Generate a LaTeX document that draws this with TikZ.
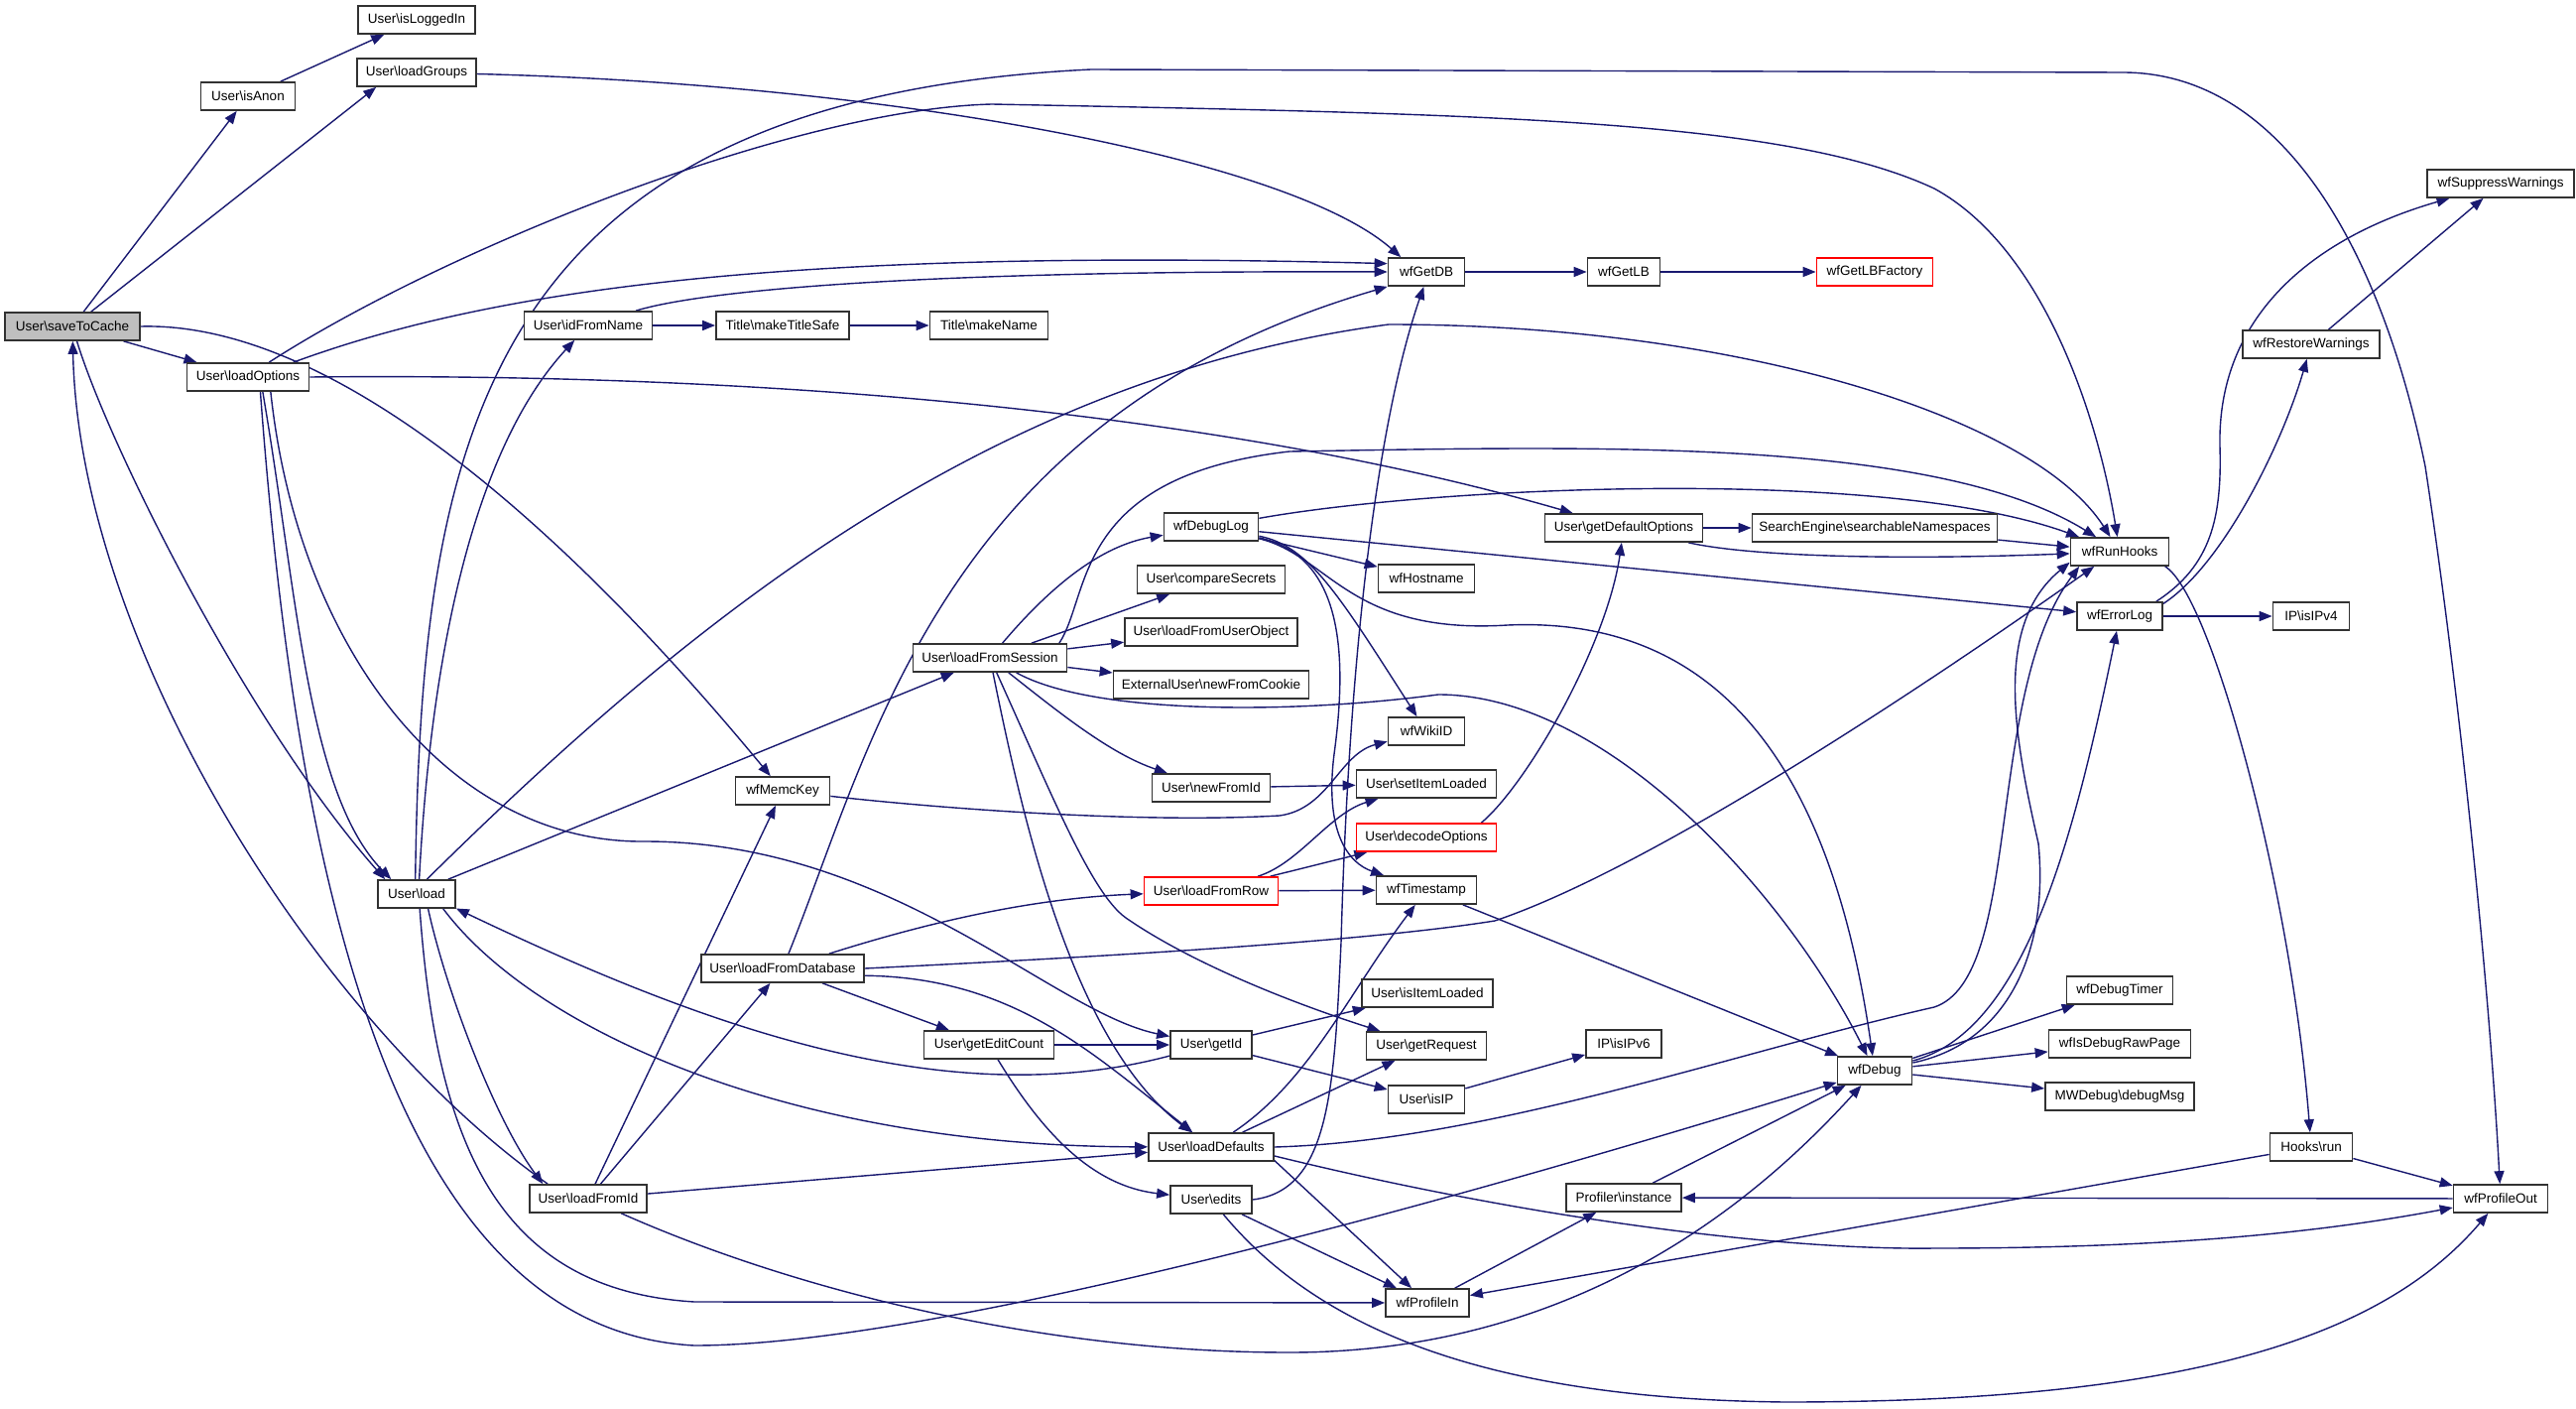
\documentclass[tikz,border=0pt]{standalone}
\usepackage{fontspec}
\setmainfont{Liberation Sans}
\usetikzlibrary{arrows.meta,backgrounds}
\definecolor{edgeblue}{RGB}{25,25,112}
\tikzset{every picture/.style={line width=1.4pt}}
\tikzset{
  fn/.style={draw={rgb,255:red,50;green,50;blue,50}, line width=1.7pt, fill=white, minimum height=28pt, inner xsep=4pt, inner ysep=0pt, font=\fontsize{13.5}{15}\selectfont},
  fnred/.style={fn, draw={rgb,255:red,255;green,0;blue,0}},
  fnroot/.style={fn, fill={rgb,255:red,191;green,191;blue,191}},
  call/.style={draw=edgeblue, line width=1.4pt, -{Triangle[length=13pt,width=10pt]}},
}

\begin{document}
\begin{tikzpicture}[x=1pt,y=1pt,yscale=-1,xscale=1]
\useasboundingbox (0,0) rectangle (2597,1420);

% Text Node
\node [fnroot, minimum width=136pt] (saveToCache) at (73,329) {User\textbackslash saveToCache};
\node [fn, minimum width=95pt] (isAnon) at (250,97) {User\textbackslash isAnon};
\node [fn, minimum width=118pt] (isLoggedIn) at (420,20) {User\textbackslash isLoggedIn};
\node [fn, minimum width=120pt] (loadGroups) at (420,73) {User\textbackslash loadGroups};
\node [fn, minimum width=123pt] (loadOptions) at (250,380) {User\textbackslash loadOptions};
\node [fn, minimum width=129pt] (idFromName) at (593,328) {User\textbackslash idFromName};
\node [fn, minimum width=134pt] (makeTitleSafe) at (789,328) {Title\textbackslash makeTitleSafe};
\node [fn, minimum width=119pt] (makeName) at (997,328) {Title\textbackslash makeName};
\node [fn, minimum width=77pt] (wfGetDB) at (1438,274) {wfGetDB};
\node [fn, minimum width=73pt] (wfGetLB) at (1637,274) {wfGetLB};
\node [fnred, minimum width=117pt] (wfGetLBFactory) at (1890,274) {wfGetLBFactory};
\node [fn, minimum width=148pt] (wfSuppressWarnings) at (2521,185) {wfSuppressWarnings};
\node [fn, minimum width=138pt] (wfRestoreWarnings) at (2330,347) {wfRestoreWarnings};
% Text Node
\node [fn, minimum width=78pt] (load) at (420,901) {User\textbackslash load};
\node [fn, minimum width=95pt] (wfDebugLog) at (1221,531) {wfDebugLog};
\node [fn, minimum width=149pt] (compareSecrets) at (1221,584) {User\textbackslash compareSecrets};
\node [fn, minimum width=174pt] (loadFromUserObject) at (1221,637) {User\textbackslash loadFromUserObject};
\node [fn, minimum width=155pt] (loadFromSession) at (998,663) {User\textbackslash loadFromSession};
\node [fn, minimum width=197pt] (newFromCookie) at (1221,690) {ExternalUser\textbackslash newFromCookie};
\node [fn, minimum width=95pt] (wfMemcKey) at (789,797) {wfMemcKey};
\node [fn, minimum width=119pt] (newFromId) at (1221,794) {User\textbackslash newFromId};
\node [fnred, minimum width=135pt] (loadFromRow) at (1221,898) {User\textbackslash loadFromRow};
\node [fn, minimum width=159pt] (getDefaultOptions) at (1637,532) {User\textbackslash getDefaultOptions};
\node [fn, minimum width=247pt] (searchableNamespaces) at (1890,532) {SearchEngine\textbackslash searchableNamespaces};
\node [fn, minimum width=97pt] (wfHostname) at (1438,583) {wfHostname};
\node [fn, minimum width=77pt] (wfWikiID) at (1438,737) {wfWikiID};
\node [fn, minimum width=141pt] (setItemLoaded) at (1438,790) {User\textbackslash setItemLoaded};
\node [fnred, minimum width=141pt] (decodeOptions) at (1438,844) {User\textbackslash decodeOptions};
\node [fn, minimum width=101pt] (wfTimestamp) at (1438,897) {wfTimestamp};
\node [fn, minimum width=99pt] (wfRunHooks) at (2137,556) {wfRunHooks};
\node [fn, minimum width=86pt] (wfErrorLog) at (2137,621) {wfErrorLog};
\node [fn, minimum width=77pt] (isIPv4) at (2330,621) {IP\textbackslash isIPv4};
% Text Node
\node [fn, minimum width=118pt] (loadFromId) at (593,1208) {User\textbackslash loadFromId};
\node [fn, minimum width=164pt] (loadFromDatabase) at (789,976) {User\textbackslash loadFromDatabase};
\node [fn, minimum width=131pt] (getEditCount) at (997,1053) {User\textbackslash getEditCount};
\node [fn, minimum width=82pt] (getId) at (1221,1053) {User\textbackslash getId};
\node [fn, minimum width=126pt] (loadDefaults) at (1221,1156) {User\textbackslash loadDefaults};
\node [fn, minimum width=82pt] (edits) at (1221,1209) {User\textbackslash edits};
\node [fn, minimum width=132pt] (isItemLoaded) at (1439,1001) {User\textbackslash isItemLoaded};
\node [fn, minimum width=121pt] (getRequest) at (1438,1054) {User\textbackslash getRequest};
\node [fn, minimum width=77pt] (isIP) at (1438,1108) {User\textbackslash isIP};
\node [fn, minimum width=76pt] (isIPv6) at (1637,1052) {IP\textbackslash isIPv6};
\node [fn, minimum width=75pt] (wfDebug) at (1890,1079) {wfDebug};
\node [fn, minimum width=116pt] (profInstance) at (1637,1207) {Profiler\textbackslash instance};
\node [fn, minimum width=84pt] (wfProfileIn) at (1439,1313) {wfProfileIn};
\node [fn, minimum width=107pt] (wfDebugTimer) at (2137,998) {wfDebugTimer};
\node [fn, minimum width=143pt] (wfIsDebugRawPage) at (2137,1052) {wfIsDebugRawPage};
\node [fn, minimum width=150pt] (debugMsg) at (2137,1105) {MWDebug\textbackslash debugMsg};
\node [fn, minimum width=83pt] (hooksRun) at (2330,1156) {Hooks\textbackslash run};
\node [fn, minimum width=95pt] (wfProfileOut) at (2521,1208) {wfProfileOut};

\begin{scope}[on background layer]
\fill [white] (0,0) rectangle (2597,1420);

%Straight Lines
\draw [call] (saveToCache) -- (isAnon);
\draw [call] (saveToCache) -- (loadGroups.-160);
\draw [call] (saveToCache) -- (loadOptions);
\draw [call] (isAnon) -- (isLoggedIn);
\draw [call] (idFromName) -- (makeTitleSafe);
\draw [call] (makeTitleSafe) -- (makeName);
\draw [call] (wfGetDB) -- (wfGetLB);
\draw [call] (wfGetLB) -- (wfGetLBFactory);
\draw [call] (load.25) -- (loadFromSession);
\draw [call] (loadFromId) -- (wfMemcKey);
\draw [call] (loadFromId) -- (loadFromDatabase);
\draw [call] (loadFromId) -- (loadDefaults);
\draw [call] (loadFromDatabase) -- (getEditCount);
\draw [call] (getEditCount) -- (getId);
\draw [call] (getId) -- (isItemLoaded);
\draw [call] (getId) -- (isIP);
\draw [call] (isIP) -- (isIPv6);
\draw [call] (edits) -- (wfProfileIn);
\draw [call] (loadFromSession) -- (compareSecrets);
\draw [call] (loadFromSession) -- (loadFromUserObject);
\draw [call] (loadFromSession) -- (newFromCookie);
\draw [call] (wfDebugLog) -- (wfHostname);
\draw [call] (wfDebugLog) -- (wfErrorLog);
\draw [call] (newFromId) -- (setItemLoaded);
\draw [call] (loadFromRow) -- (decodeOptions);
\draw [call] (loadFromRow) -- (wfTimestamp);
\draw [call] (getDefaultOptions) -- (searchableNamespaces);
\draw [call] (searchableNamespaces) -- (wfRunHooks);
\draw [call] (loadDefaults) -- (getRequest);
\draw [call] (loadDefaults.-12) -- (wfProfileIn);
\draw [call] (wfTimestamp) -- (wfDebug);
\draw [call] (hooksRun) -- (wfProfileIn);
\draw [call] (hooksRun) -- (wfProfileOut);
\draw [call] (wfProfileIn) -- (profInstance);
\draw [call] (wfProfileOut) -- (profInstance);
\draw [call] (profInstance) -- (wfDebug);
\draw [call] (wfDebug) -- (wfDebugTimer);
\draw [call] (wfDebug) -- (wfIsDebugRawPage);
\draw [call] (wfDebug) -- (debugMsg);
\draw [call] (wfErrorLog) -- (isIPv4);
\draw [call] (wfRestoreWarnings) -- (wfSuppressWarnings);

%Curve Lines
\draw [call] (saveToCache.east) .. controls (330,324) and (560,520) .. (wfMemcKey);
\draw [call] (saveToCache) .. controls (110,450) and (250,730) .. (load.155);
\draw [call] (loadGroups) .. controls (900,85) and (1300,160) .. (wfGetDB.150);
\draw [call] (loadOptions.-45) .. controls (300,600) and (310,800) .. (load.150);
\draw [call] (loadOptions.-33) .. controls (300,650) and (450,850) .. (650,848) .. controls (900,848) and (1060,1020) .. (getId);
\draw [call] (loadOptions.east) .. controls (800,375) and (1250,420) .. (getDefaultOptions);
\draw [call] (loadOptions.-50) .. controls (300,900) and (400,1340) .. (700,1356) .. controls (950,1356) and (1500,1200) .. (wfDebug);
\draw [call] (loadOptions.18) .. controls (500,290) and (800,250) .. (wfGetDB.168);
\draw [call] (loadOptions.35) .. controls (450,250) and (800,110) .. (1000,105) .. controls (1500,115) and (1800,120) .. (1950,190) .. controls (2060,250) and (2115,420) .. (wfRunHooks);
\draw [call] (load.80) .. controls (435,650) and (480,450) .. (idFromName);
\draw [call] (load.-52) .. controls (450,1000) and (500,1130) .. (loadFromId.162);
\draw [call] (load.-29) .. controls (540,1040) and (800,1155) .. (loadDefaults);
\draw [call] (load.-78) .. controls (440,1150) and (500,1300) .. (700,1312) -- (wfProfileIn);
\draw [call] (load.95) .. controls (425,450) and (480,100) .. (1100,70) -- (2140,73) .. controls (2300,73) and (2400,250) .. (2445,470) .. controls (2480,700) and (2510,1000) .. (wfProfileOut);
\draw [call] (load.55) .. controls (700,620) and (1000,380) .. (1400,327) .. controls (1750,327) and (2050,420) .. (wfRunHooks);
\draw [call] (idFromName) .. controls (700,295) and (900,272) .. (wfGetDB.west);
\draw [call] (loadFromId.160) .. controls (320,1030) and (80,650) .. (saveToCache);
\draw [call] (loadFromId) .. controls (800,1300) and (1050,1363) .. (1300,1363) .. controls (1600,1363) and (1780,1200) .. (wfDebug);
\draw [call] (loadFromDatabase) .. controls (880,750) and (950,420) .. (wfGetDB.south west);
\draw [call] (loadFromDatabase) .. controls (950,925) and (1050,905) .. (loadFromRow);
\draw [call] (loadFromDatabase.-5) .. controls (1020,985) and (1100,1060) .. (loadDefaults);
\draw [call] (loadFromDatabase.east) .. controls (1200,960) and (1400,945) .. (1507,928) .. controls (1650,880) and (1900,720) .. (wfRunHooks.-150);
\draw [call] (getEditCount) .. controls (1050,1140) and (1100,1195) .. (edits);
\draw [call] (getId) .. controls (950,1125) and (700,1030) .. (load.-20);
\draw [call] (edits.east) .. controls (1340,1200) and (1345,1100) .. (1352,950) .. controls (1360,650) and (1390,420) .. (wfGetDB.-100);
\draw [call] (edits) .. controls (1330,1340) and (1500,1410) .. (1800,1413) .. controls (2200,1413) and (2400,1350) .. (wfProfileOut);
\draw [call] (loadFromSession) .. controls (1060,590) and (1110,550) .. (wfDebugLog);
\draw [call] (loadFromSession) .. controls (1070,720) and (1120,760) .. (newFromId);
\draw [call] (loadFromSession) .. controls (1060,800) and (1100,900) .. (1135,925) .. controls (1200,970) and (1300,1010) .. (getRequest);
\draw [call] (loadFromSession) .. controls (1030,820) and (1080,1050) .. (loadDefaults);
\draw [call] (loadFromSession) .. controls (1100,720) and (1300,720) .. (1450,700) .. controls (1620,700) and (1800,900) .. (wfDebug);
\draw [call] (loadFromSession.12) .. controls (1100,600) and (1080,480) .. (1300,455) .. controls (1600,450) and (1950,440) .. (wfRunHooks);
\draw [call] (wfDebugLog) .. controls (1450,490) and (1900,470) .. (wfRunHooks);
\draw [call] (wfDebugLog) .. controls (1320,550) and (1350,600) .. (wfWikiID);
\draw [call] (wfDebugLog) .. controls (1350,560) and (1360,650) .. (1345,760) .. controls (1335,840) and (1360,870) .. (wfTimestamp);
\draw [call] (wfDebugLog) .. controls (1340,560) and (1360,640) .. (1520,630) .. controls (1750,620) and (1850,800) .. (wfDebug);
\draw [call] (wfMemcKey) .. controls (950,815) and (1150,830) .. (1290,822) .. controls (1340,815) and (1350,760) .. (wfWikiID);
\draw [call] (loadFromRow) .. controls (1310,870) and (1340,820) .. (setItemLoaded);
\draw [call] (decodeOptions.15) .. controls (1540,790) and (1620,650) .. (getDefaultOptions);
\draw [call] (getDefaultOptions) .. controls (1760,560) and (1900,565) .. (wfRunHooks);
\draw [call] (loadDefaults) .. controls (1320,1090) and (1360,1000) .. (wfTimestamp);
\draw [call] (loadDefaults.east) .. controls (1500,1150) and (1750,1060) .. (1950,1015) .. controls (2040,985) and (2000,700) .. (wfRunHooks.-160);
\draw [call] (loadDefaults.-8) .. controls (1550,1230) and (1800,1260) .. (1950,1258) .. controls (2200,1258) and (2350,1240) .. (wfProfileOut);
\draw [call] (wfRunHooks.-18) .. controls (2230,600) and (2310,900) .. (hooksRun);
\draw [call] (wfDebug) .. controls (2040,1040) and (2090,850) .. (wfErrorLog);
\draw [call] (wfDebug) .. controls (2030,1050) and (2065,950) .. (2055,850) .. controls (2030,740) and (2010,630) .. (wfRunHooks.-168);
\draw [call] (wfErrorLog.22) .. controls (2230,570) and (2240,520) .. (2238,450) .. controls (2235,320) and (2330,240) .. (wfSuppressWarnings);
\draw [call] (wfErrorLog.16) .. controls (2240,570) and (2300,450) .. (wfRestoreWarnings);
\end{scope}

\end{tikzpicture}
\end{document}
